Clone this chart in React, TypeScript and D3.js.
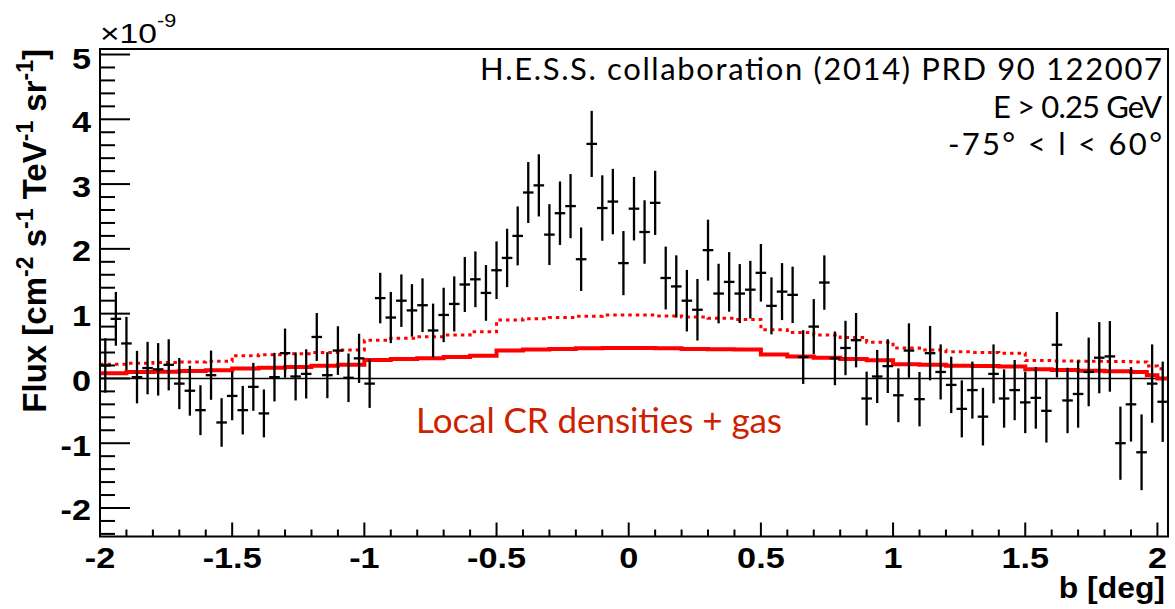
import React from "react";
import * as d3 from "d3";

const BIN_CENTERS = [
  -1.98, -1.94, -1.90, -1.86, -1.82, -1.78, -1.74, -1.70, -1.66, -1.62,
  -1.58, -1.54, -1.50, -1.46, -1.42, -1.38, -1.34, -1.30, -1.26, -1.22,
  -1.18, -1.14, -1.10, -1.06, -1.02, -0.98, -0.94, -0.90, -0.86, -0.82,
  -0.78, -0.74, -0.70, -0.66, -0.62, -0.58, -0.54, -0.50, -0.46, -0.42,
  -0.38, -0.34, -0.30, -0.26, -0.22, -0.18, -0.14, -0.10, -0.06, -0.02,
  0.02, 0.06, 0.10, 0.14, 0.18, 0.22, 0.26, 0.30, 0.34, 0.38,
  0.42, 0.46, 0.50, 0.54, 0.58, 0.62, 0.66, 0.70, 0.74, 0.78,
  0.82, 0.86, 0.90, 0.94, 0.98, 1.02, 1.06, 1.10, 1.14, 1.18,
  1.22, 1.26, 1.30, 1.34, 1.38, 1.42, 1.46, 1.50, 1.54, 1.58,
  1.62, 1.66, 1.70, 1.74, 1.78, 1.82, 1.86, 1.90, 1.94, 1.98,
  2.02,
];
const BIN_HALF_WIDTH = 0.02;

// Flux in units of 1e-9 cm^-2 s^-1 TeV^-1 sr^-1
const FLUX = [
  0.20, 0.92, 0.54, 0.02, 0.16, 0.14, 0.21, -0.08, -0.19, -0.49,
  0.05, -0.68, -0.27, -0.49, -0.13, -0.54, 0.02, 0.39, 0.03, 0.07,
  0.64, 0.05, 0.43, 0.01, 0.31, -0.08, 1.24, 0.94, 1.20, 1.05,
  1.13, 0.74, 0.98, 1.15, 1.45, 1.53, 1.32, 1.67, 1.86, 2.20,
  2.87, 2.98, 2.22, 2.55, 2.66, 1.84, 3.62, 2.63, 2.73, 1.78,
  2.62, 2.26, 2.71, 1.55, 1.42, 1.20, 1.06, 1.98, 1.31, 1.49,
  1.31, 1.37, 1.63, 1.12, 1.34, 1.29, 0.33, 0.80, 1.48, 0.31,
  0.47, 0.59, -0.31, 0.03, 0.19, -0.26, 0.43, -0.32, 0.39, 0.10,
  -0.10, -0.47, -0.18, -0.59, 0.07, -0.31, -0.18, -0.37, -0.30, -0.50,
  0.52, -0.34, -0.24, 0.10, 0.32, 0.34, -1.00, -0.40, -1.14, -0.08,
  -0.36,
];

const FLUX_ERR = [
  0.42, 0.415, 0.41, 0.405, 0.405, 0.405, 0.395, 0.395, 0.385, 0.385,
  0.38, 0.375, 0.375, 0.375, 0.37, 0.37, 0.375, 0.38, 0.37, 0.38,
  0.37, 0.355, 0.375, 0.375, 0.38, 0.375, 0.39, 0.395, 0.405, 0.405,
  0.415, 0.415, 0.42, 0.425, 0.425, 0.43, 0.43, 0.445, 0.45, 0.455,
  0.47, 0.48, 0.47, 0.49, 0.495, 0.49, 0.51, 0.505, 0.505, 0.495,
  0.49, 0.49, 0.495, 0.485, 0.48, 0.475, 0.475, 0.47, 0.46, 0.46,
  0.455, 0.445, 0.445, 0.44, 0.44, 0.435, 0.415, 0.425, 0.42, 0.415,
  0.42, 0.42, 0.415, 0.41, 0.415, 0.415, 0.42, 0.42, 0.42, 0.425,
  0.435, 0.44, 0.44, 0.445, 0.455, 0.45, 0.465, 0.475, 0.475, 0.49,
  0.505, 0.505, 0.52, 0.53, 0.55, 0.545, 0.565, 0.575, 0.585, 0.605,
  0.62,
];

// Model histograms (step), bin edges
const MODEL_EDGES = [
  -2.0, -1.9, -1.8, -1.7, -1.6, -1.5, -1.4, -1.3, -1.2, -1.1,
  -1.0, -0.9, -0.8, -0.7, -0.6, -0.5, -0.4, -0.3, -0.2, -0.1,
  0.0, 0.1, 0.2, 0.3, 0.4, 0.5, 0.6, 0.7, 0.8, 0.9,
  1.0, 1.1, 1.2, 1.3, 1.4, 1.5, 1.6, 1.7, 1.8, 1.9,
  1.96, 2.0, 2.04,
];
// solid: local CR densities + gas
const MODEL_LOCAL = [
  0.08, 0.10, 0.105, 0.115, 0.125, 0.155, 0.165, 0.175, 0.195, 0.21,
  0.285, 0.30, 0.31, 0.33, 0.35, 0.43, 0.445, 0.455, 0.465, 0.47,
  0.47, 0.465, 0.455, 0.45, 0.445, 0.37, 0.34, 0.32, 0.30, 0.28,
  0.22, 0.21, 0.195, 0.19, 0.185, 0.14, 0.13, 0.12, 0.11, 0.10,
  0.05, 0.0,
];
// dotted
const MODEL_DOTTED = [
  0.22, 0.235, 0.245, 0.255, 0.265, 0.35, 0.365, 0.38, 0.40, 0.44,
  0.59, 0.62, 0.645, 0.67, 0.72, 0.90, 0.92, 0.94, 0.96, 0.98,
  0.98, 0.965, 0.95, 0.93, 0.91, 0.75, 0.71, 0.67, 0.63, 0.56,
  0.47, 0.44, 0.41, 0.40, 0.39, 0.275, 0.27, 0.265, 0.26, 0.255,
  0.19, 0.15,
];

const X_MAJOR = [-2, -1.5, -1, -0.5, 0, 0.5, 1, 1.5, 2];
const X_LABELS = ["-2", "-1.5", "-1", "-0.5", "0", "0.5", "1", "1.5", "2"];
const Y_MAJOR = [-2, -1, 0, 1, 2, 3, 4, 5];
const Y_LABELS = ["-2", "-1", "0", "1", "2", "3", "4", "5"];

const INFO_LINES = [
  "H.E.S.S. collaboration (2014) PRD 90 122007",
  "E > 0.25 GeV",
  "-75° < l < 60°",
];
const MODEL_LABEL = "Local CR densities + gas";

// layout
const W = 1175;
const H = 609;
const L = 100;
const R = 1168;
const T = 49;
const B = 536.5;
const INFO_WIDTHS = [682, 169, 214];
const LABEL_SX = 1.18;

export default function App() {
  const x = d3.scaleLinear().domain([-2, 2.04]).range([L, R]);
  const y = d3.scaleLinear().domain([-2.44, 5.085]).range([B, T]);

  const xMinor = d3
    .range(-20, 21)
    .map((i) => i / 10)
    .filter((v) => !X_MAJOR.some((m) => Math.abs(m - v) < 1e-6));
  const yMinor = d3
    .range(-12, 26)
    .map((i) => i / 5)
    .filter((v) => !Y_MAJOR.some((m) => Math.abs(m - v) < 1e-6));

  const stepPts = (vals: number[]) => {
    const pts: [number, number][] = vals.map((v, i) => [MODEL_EDGES[i], v]);
    pts.push([MODEL_EDGES[MODEL_EDGES.length - 1], vals[vals.length - 1]]);
    return pts;
  };
  const stepLine = d3
    .line<[number, number]>()
    .x((d) => x(d[0]))
    .y((d) => y(d[1]))
    .curve(d3.curveStepAfter);

  const axisFont = "'Liberation Sans', Arial, Helvetica, sans-serif";
  const infoFont = "Lato, 'Open Sans', sans-serif";

  return (
    <svg
      width={W}
      height={H}
      style={{ position: "absolute", left: 0, top: 0, background: "#fff" }}
    >
      <defs>
        <clipPath id="plotclip">
          <rect x={L} y={T} width={R - L} height={B - T} />
        </clipPath>
      </defs>
      <rect x={0} y={0} width={W} height={H} fill="#fff" />

      {/* zero line */}
      <line x1={L} x2={R} y1={y(0)} y2={y(0)} stroke="#000" strokeWidth={1.6} />

      {/* models */}
      <g clipPath="url(#plotclip)">
        <path
          d={stepLine(stepPts(MODEL_DOTTED)) || ""}
          fill="none"
          stroke="#ff0000"
          strokeWidth={3}
          strokeDasharray="3.5,4"
        />
        <path
          d={stepLine(stepPts(MODEL_LOCAL)) || ""}
          fill="none"
          stroke="#ff0000"
          strokeWidth={4}
        />
      </g>

      {/* data points */}
      <g stroke="#000" strokeWidth={2.3}>
        {BIN_CENTERS.map((b, i) => (
          <g key={i}>
            <line
              x1={x(b)}
              x2={x(b)}
              y1={y(FLUX[i] - FLUX_ERR[i])}
              y2={y(FLUX[i] + FLUX_ERR[i])}
            />
            <line
              x1={x(b - BIN_HALF_WIDTH)}
              x2={x(b + BIN_HALF_WIDTH)}
              y1={y(FLUX[i])}
              y2={y(FLUX[i])}
            />
          </g>
        ))}
      </g>

      {/* frame */}
      <rect x={L} y={T} width={R - L} height={B - T} fill="none" stroke="#000" strokeWidth={2} />

      {/* ticks */}
      <g stroke="#000" strokeWidth={2}>
        {X_MAJOR.map((v) => (
          <line key={"xM" + v} x1={x(v)} x2={x(v)} y1={B} y2={B - 14} />
        ))}
        {xMinor.map((v) => (
          <line key={"xm" + v} x1={x(v)} x2={x(v)} y1={B} y2={B - 7} />
        ))}
        {Y_MAJOR.map((v) => (
          <line key={"yM" + v} x1={L} x2={L + 30} y1={y(v)} y2={y(v)} />
        ))}
        {yMinor.map((v) => (
          <line key={"ym" + v} x1={L} x2={L + 15} y1={y(v)} y2={y(v)} />
        ))}
      </g>

      {/* tick labels */}
      <g fontFamily={axisFont} fontWeight="bold" fontSize={29} fill="#000">
        {X_MAJOR.map((v, i) => (
          <text
            key={"xl" + v}
            transform={`translate(${x(v)}, 568) scale(${LABEL_SX}, 1)`}
            textAnchor="middle"
          >
            {X_LABELS[i]}
          </text>
        ))}
        {Y_MAJOR.map((v, i) => (
          <text
            key={"yl" + v}
            transform={`translate(91, ${y(v) + (v === 5 ? 14 : 12.5)}) scale(${LABEL_SX}, 1)`}
            textAnchor="end"
          >
            {Y_LABELS[i]}
          </text>
        ))}
      </g>

      {/* exponent */}
      <text transform="translate(100, 43) scale(1.2, 1)" fontFamily={axisFont} fontSize={28} fill="#000">
        ×10
        <tspan dy={-16} fontSize={18}>
          -9
        </tspan>
      </text>

      {/* axis titles */}
      <text
        transform="translate(1165, 598) scale(1.1, 1)"
        textAnchor="end"
        fontFamily={axisFont}
        fontWeight="bold"
        fontSize={29}
        fill="#000"
      >
        b [deg]
      </text>
      <text
        transform={`translate(46, ${T}) rotate(-90)`}
        textAnchor="end"
        fontFamily={axisFont}
        fontWeight="bold"
        fontSize={33}
        fill="#000"
      >
        Flux [cm
        <tspan dy={-13} fontSize={23}>-2</tspan>
        <tspan dy={13}> s</tspan>
        <tspan dy={-13} fontSize={23}>-1</tspan>
        <tspan dy={13}> TeV</tspan>
        <tspan dy={-13} fontSize={23}>-1</tspan>
        <tspan dy={13}> sr</tspan>
        <tspan dy={-13} fontSize={23}>-1</tspan>
        <tspan dy={13}>]</tspan>
      </text>

      {/* info text */}
      <g fontFamily={infoFont} fontSize={31} fill="#000">
        {INFO_LINES.map((t, i) => (
          <text
            key={t}
            x={1162 - INFO_WIDTHS[i]}
            y={80 + i * 37.5}
            textLength={INFO_WIDTHS[i]}
            lengthAdjust="spacing"
          >
            {t}
          </text>
        ))}
      </g>
      <text
        x={416}
        y={433}
        fontFamily={infoFont}
        fontSize={35}
        fill="#cc2200"
        textLength={366}
        lengthAdjust="spacing"
      >
        {MODEL_LABEL}
      </text>
    </svg>
  );
}
